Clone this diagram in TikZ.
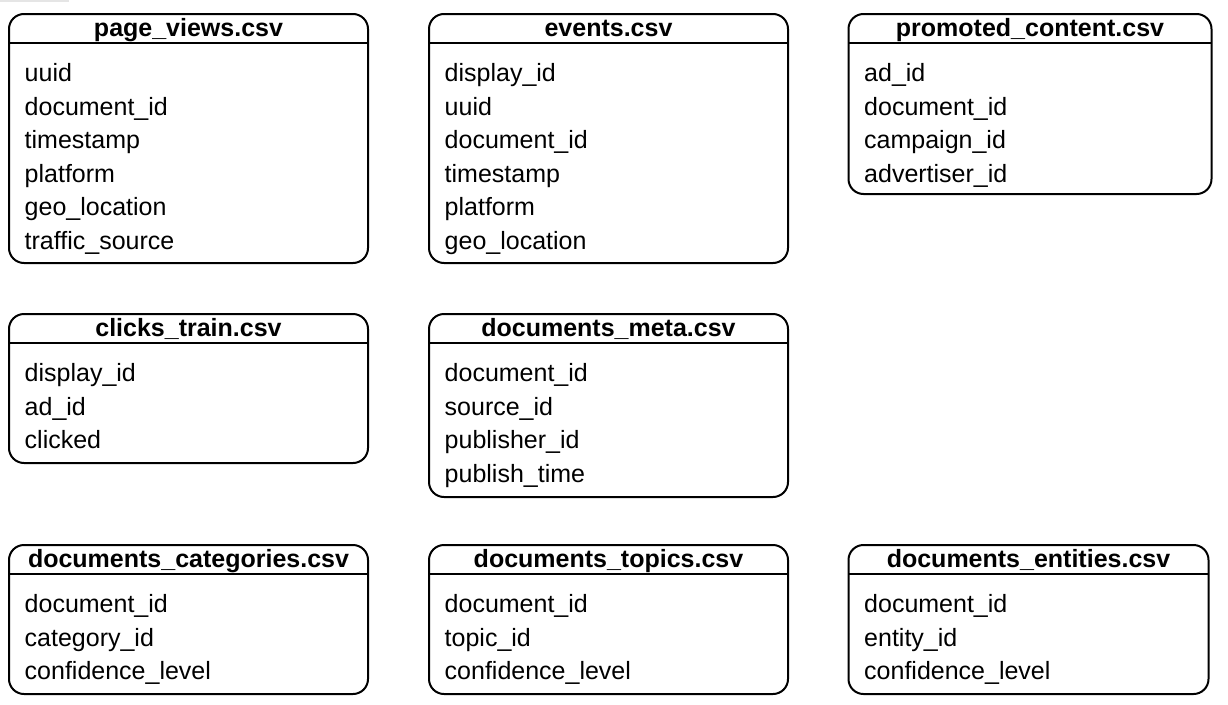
\documentclass[tikz,border=0pt]{standalone}
\usepackage{fontspec}
\setmainfont{Liberation Sans}
\tikzset{
  tbl/.style={draw, line width=2pt, rounded corners=15pt, anchor=north west, inner sep=0pt, outer sep=0pt},
  ttl/.style={anchor=base, font=\bfseries\fontsize{25}{30}\selectfont, inner sep=0pt},
  fld/.style={anchor=base west, font=\fontsize{25}{30}\selectfont, inner sep=0pt},
  hdrline/.style={line width=2pt},
  artifact/.style={fill=black!10, draw=none}
}
\newcommand{\mktable}[7]{%
  \node[tbl, minimum width=#4pt, minimum height=#5pt] (#1) at (#2,#3) {};
  \draw[hdrline] ([yshift=-29pt]#1.north west) -- ([yshift=-29pt]#1.north east);
  \node[ttl] (#1-t) at ([yshift=-22pt]#1.north) {#6};
  \foreach \f [count=\i] in {#7} {
    \node[fld] (#1-f\i) at ([xshift=15.5pt,yshift={-67.5pt-(\i-1)*33.6pt}]#1.north west) {\f};
  }
}
\begin{document}
\begin{tikzpicture}[x=1pt,y=-1pt]
\useasboundingbox (0,0) rectangle (1228,704);
\fill[artifact] (0,0) rectangle (69,1.5);
\mktable{pv}{9}{14}{359}{249}{page\_views.csv}{uuid,document\_id,timestamp,platform,geo\_location,traffic\_source}
\mktable{ev}{429}{14}{359}{249}{events.csv}{display\_id,uuid,document\_id,timestamp,platform,geo\_location}
\mktable{pc}{848.5}{14}{363}{180}{promoted\_content.csv}{ad\_id,document\_id,campaign\_id,advertiser\_id}
\mktable{ct}{9}{314}{359}{149}{clicks\_train.csv}{display\_id,ad\_id,clicked}
\mktable{dm}{429}{314}{359}{183}{documents\_meta.csv}{document\_id,source\_id,publisher\_id,publish\_time}
\mktable{dc}{9}{545}{359}{149}{documents\_categories.csv}{document\_id,category\_id,confidence\_level}
\mktable{dt}{429}{545}{359}{149}{documents\_topics.csv}{document\_id,topic\_id,confidence\_level}
\mktable{de}{848.5}{545}{360}{149}{documents\_entities.csv}{document\_id,entity\_id,confidence\_level}
\end{tikzpicture}
\end{document}
